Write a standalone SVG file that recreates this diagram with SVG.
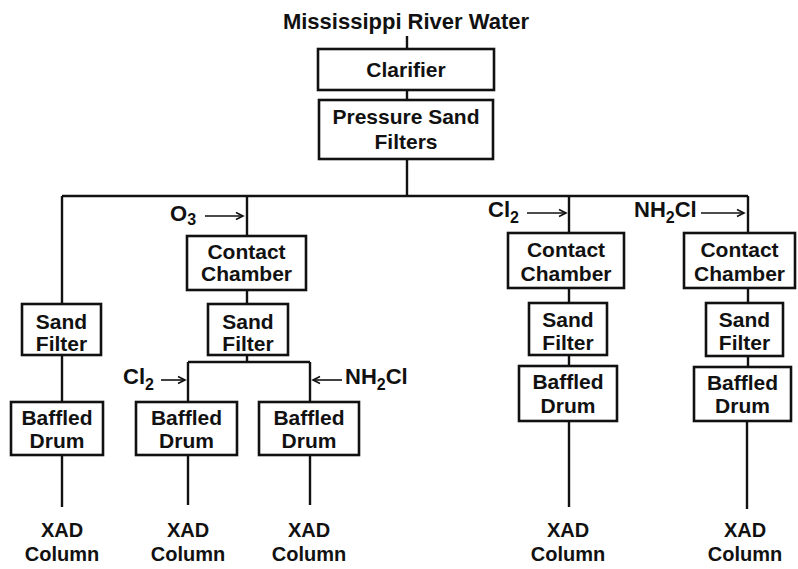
<svg xmlns="http://www.w3.org/2000/svg" width="798" height="569" viewBox="0 0 798 569">
<defs>
<style>
text{font-family:"Liberation Sans",Arial,Helvetica,sans-serif;font-weight:bold;fill:#111;text-anchor:middle}
.t{font-size:21px}
.title{font-size:22px}
.lbl{font-size:22px;text-anchor:start}
.sub{font-size:16px}
.xad{font-size:20px}
.box{fill:#fff;stroke:#111;stroke-width:2.6}
.ln{fill:none;stroke:#111;stroke-width:2.4}
.ar{fill:none;stroke:#111;stroke-width:1.6}
</style>
<marker id="ah" markerWidth="10" markerHeight="10" refX="8" refY="5" orient="auto" markerUnits="userSpaceOnUse">
<path d="M1,1.5 L8,5 L1,8.5" fill="none" stroke="#111" stroke-width="1.6"/>
</marker>
</defs>
<rect width="798" height="569" fill="#fff"/>
<g id="connectors">
<path class="ln" d="M407,36 V49 M407,90 V100 M407,159 V196 M62,196 H748"/>
<path class="ln" d="M62,196 V304 M62,355 V402 M62,455 V507"/>
<path class="ln" d="M247,196 V236 M247,290 V304 M247,355 V362 M188,362 H310 M188,362 V402 M310,362 V402 M188,455 V505 M310,455 V505"/>
<path class="ln" d="M569,196 V233 M569,288 V303 M569,355 V366 M569,421 V507"/>
<path class="ln" d="M748,196 V233 M748,288 V303 M748,356 V367 M747,421 V509"/>
<path class="ar" marker-end="url(#ah)" d="M205,216 H243"/>
<path class="ar" marker-end="url(#ah)" d="M161,380 H185"/>
<path class="ar" marker-end="url(#ah)" d="M342,380 H313"/>
<path class="ar" marker-end="url(#ah)" d="M527,213 H566"/>
<path class="ar" marker-end="url(#ah)" d="M701,213 H744"/>
</g>
<g id="source"><text class="title" x="406" y="29">Mississippi River Water</text></g>
<g id="clarifier"><rect class="box" x="318" y="49" width="176" height="41"/><text class="t" x="406" y="77">Clarifier</text></g>
<g id="pressure-sand-filters"><rect class="box" x="319" y="100" width="174" height="59"/><text class="t" x="406" y="124">Pressure Sand</text><text class="t" x="406" y="149">Filters</text></g>

<g id="sand-filter-1"><rect class="box" x="22" y="304" width="79" height="51"/><text class="t" x="61.5" y="329">Sand</text><text class="t" x="61.5" y="351">Filter</text></g>
<g id="baffled-drum-1"><rect class="box" x="11" y="402" width="92" height="53"/><text class="t" x="57" y="425">Baffled</text><text class="t" x="57" y="448">Drum</text></g>
<g id="xad-1"><text class="xad" x="62" y="537">XAD</text><text class="xad" x="62" y="561">Column</text></g>

<g id="o3-label"><text class="lbl" x="170" y="221">O<tspan class="sub" dy="4">3</tspan></text></g>
<g id="contact-chamber-2"><rect class="box" x="187" y="236" width="119" height="54"/><text class="t" x="246.5" y="259">Contact</text><text class="t" x="246.5" y="281">Chamber</text></g>
<g id="sand-filter-2"><rect class="box" x="208" y="304" width="80" height="51"/><text class="t" x="248" y="329">Sand</text><text class="t" x="248" y="351">Filter</text></g>
<g id="cl2-label-2"><text class="lbl" x="123" y="384">Cl<tspan class="sub" dy="6">2</tspan></text></g>
<g id="nh2cl-label-2"><text class="lbl" x="345" y="384">NH<tspan class="sub" dy="6">2</tspan><tspan dy="-6">Cl</tspan></text></g>
<g id="baffled-drum-2a"><rect class="box" x="136" y="402" width="101" height="53"/><text class="t" x="186.5" y="425">Baffled</text><text class="t" x="186.5" y="448">Drum</text></g>
<g id="baffled-drum-2b"><rect class="box" x="259" y="402" width="100" height="53"/><text class="t" x="309" y="425">Baffled</text><text class="t" x="309" y="448">Drum</text></g>
<g id="xad-2a"><text class="xad" x="188" y="537">XAD</text><text class="xad" x="188" y="561">Column</text></g>
<g id="xad-2b"><text class="xad" x="309" y="537">XAD</text><text class="xad" x="309" y="561">Column</text></g>

<g id="cl2-label-3"><text class="lbl" x="488" y="217">Cl<tspan class="sub" dy="6">2</tspan></text></g>
<g id="contact-chamber-3"><rect class="box" x="508" y="233" width="116" height="55"/><text class="t" x="566" y="257">Contact</text><text class="t" x="566" y="281">Chamber</text></g>
<g id="sand-filter-3"><rect class="box" x="529" y="303" width="78" height="52"/><text class="t" x="568" y="327">Sand</text><text class="t" x="568" y="350">Filter</text></g>
<g id="baffled-drum-3"><rect class="box" x="519" y="366" width="98" height="55"/><text class="t" x="568" y="389">Baffled</text><text class="t" x="568" y="413">Drum</text></g>
<g id="xad-3"><text class="xad" x="568" y="537">XAD</text><text class="xad" x="568" y="561">Column</text></g>

<g id="nh2cl-label-4"><text class="lbl" x="634" y="217">NH<tspan class="sub" dy="6">2</tspan><tspan dy="-6">Cl</tspan></text></g>
<g id="contact-chamber-4"><rect class="box" x="684" y="233" width="111" height="55"/><text class="t" x="739.5" y="257">Contact</text><text class="t" x="739.5" y="281">Chamber</text></g>
<g id="sand-filter-4"><rect class="box" x="706" y="303" width="77" height="53"/><text class="t" x="744.5" y="327">Sand</text><text class="t" x="744.5" y="350">Filter</text></g>
<g id="baffled-drum-4"><rect class="box" x="694" y="367" width="97" height="54"/><text class="t" x="742.5" y="390">Baffled</text><text class="t" x="742.5" y="413">Drum</text></g>
<g id="xad-4"><text class="xad" x="745" y="537">XAD</text><text class="xad" x="745" y="561">Column</text></g>
</svg>
